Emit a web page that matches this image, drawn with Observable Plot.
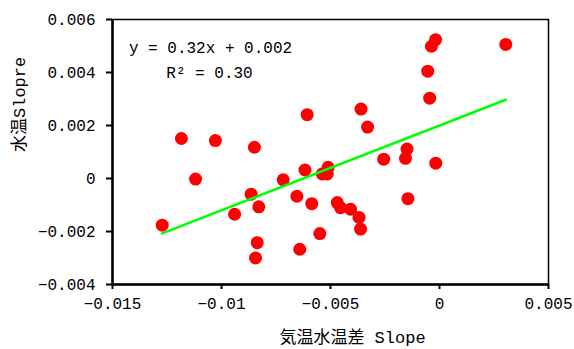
<!DOCTYPE html>
<html><head><meta charset="utf-8">
<script src="https://cdn.jsdelivr.net/npm/d3@7"></script>
<script src="https://cdn.jsdelivr.net/npm/@observablehq/plot@0.6"></script>
<style>html,body{margin:0;padding:0;background:#fff}</style>
</head><body><div id="chart"></div>
<script>
const airWaterDiffSlope = [-0.01272, -0.01184, -0.01119, -0.01028, -0.00940, -0.00864, -0.00849, -0.00829, -0.00836, -0.00844, -0.00717, -0.00654, -0.00641, -0.00617, -0.00607, -0.00586, -0.00549, -0.00538, -0.00515, -0.00511, -0.00469, -0.00454, -0.00408, -0.00369, -0.00362, -0.00360, -0.00330, -0.00256, -0.00149, -0.00156, -0.00145, -0.00054, -0.00045, -0.00037, -0.00018, -0.00017, 0.00304];
const waterTempSlope = [-0.00176, 0.00151, -0.00002, 0.00143, -0.00135, -0.00059, 0.00118, -0.00107, -0.00242, -0.00300, -0.00005, -0.00067, -0.00267, 0.00032, 0.00241, -0.00095, -0.00208, 0.00017, 0.00017, 0.00042, -0.00091, -0.00110, -0.00116, -0.00147, -0.00191, 0.00262, 0.00194, 0.00073, 0.00111, 0.00076, -0.00076, 0.00405, 0.00303, 0.00499, 0.00524, 0.00058, 0.00506];
const xTicks = [-0.015, -0.01, -0.005, 0, 0.005];
const yTicks = [-0.004, -0.002, 0, 0.002, 0.004, 0.006];
const fitSlope = 0.32;
const fitIntercept = 0.002;
const fitR2 = "0.30";
const xLabel = "気温水温差 Slope";
const yLabel = "水温Slopre";

const points = airWaterDiffSlope.map((x, i) => ({x, y: waterTempSlope[i]}));
const fit = d3.extent(airWaterDiffSlope).map(x => ({x, y: fitSlope * x + fitIntercept}));
const fmt = d3.format("~g");
const mono = "'Liberation Mono', 'Noto Sans CJK JP', monospace";

const chart = Plot.plot({
  width: 574, height: 349,
  marginLeft: 112, marginRight: 26, marginTop: 19, marginBottom: 65,
  style: {fontFamily: mono, fontSize: "16px", color: "black", background: "white"},
  x: {domain: [xTicks[0], xTicks[xTicks.length - 1]]},
  y: {domain: [yTicks[0], yTicks[yTicks.length - 1]]},
  marks: [
    Plot.frame({stroke: "black", strokeWidth: 1.5}),
    Plot.axisX({ticks: xTicks, tickFormat: fmt, tickSize: 5, tickPadding: 8, strokeWidth: 2, label: null}),
    Plot.axisY({ticks: yTicks, tickFormat: fmt, tickSize: 6, tickPadding: 11, strokeWidth: 2, label: null}),
    Plot.ruleX([xTicks[0]], {strokeWidth: 2.5}),
    Plot.ruleY([yTicks[0]], {strokeWidth: 2.5}),
    Plot.dot(points, {x: "x", y: "y", r: 6.5, fill: "#ff0000"}),
    Plot.line(fit, {x: "x", y: "y", stroke: "#00ff00", strokeWidth: 2.5}),
    Plot.text([`y = ${fitSlope}x + ${fitIntercept}`], {text: d => d, frameAnchor: "top-left", dx: 98, dy: 28, textAnchor: "middle", lineAnchor: "middle", fontSize: 16}),
    Plot.text([`R² = ${fitR2}`], {text: d => d, frameAnchor: "top-left", dx: 97, dy: 53.5, textAnchor: "middle", lineAnchor: "middle", fontSize: 16}),
    Plot.text([xLabel], {text: d => d, frameAnchor: "bottom", dx: 22, dy: 53, lineAnchor: "middle", fontSize: 17}),
    Plot.text([yLabel], {text: d => d, frameAnchor: "left", dx: -93, rotate: -90, lineAnchor: "middle", fontSize: 17})
  ]
});
document.getElementById("chart").appendChild(chart);
</script>
</body></html>
